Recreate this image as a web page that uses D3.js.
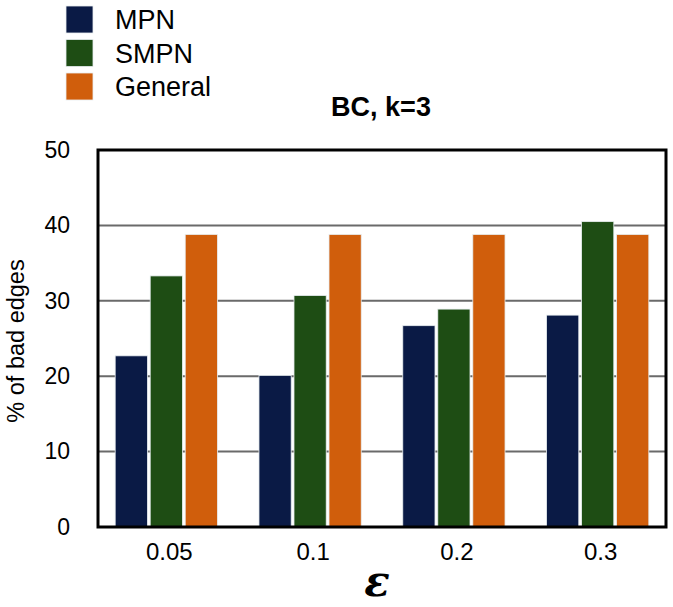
<!DOCTYPE html>
<html>
<head>
<meta charset="utf-8">
<script src="https://cdn.jsdelivr.net/npm/d3@7"></script>
<style>
  body { margin: 0; background: #fff; }
  text { font-family: "Liberation Sans", Arial, sans-serif; fill: #000; }
</style>
</head>
<body>
<script>
// data
var categories = ["0.05", "0.1", "0.2", "0.3"];
var seriesNames = ["MPN", "SMPN", "General"];
var mpn = [22.7, 20.1, 26.7, 28.1];
var smpn = [33.3, 30.7, 28.9, 40.5];
var general = [38.8, 38.8, 38.8, 38.8];
var yTicks = [0, 10, 20, 30, 40, 50];
var colors = ["#0a1a45", "#1e4d14", "#d05e0c"];

var width = 673, height = 607;
var margin = {left: 98, right: 7, top: 150, bottom: 80};

var svg = d3.select("body").append("svg")
    .attr("width", width)
    .attr("height", height);

var x0 = d3.scaleBand()
    .domain(categories)
    .range([margin.left, width - margin.right])
    .paddingInner(0.25)
    .paddingOuter(0.1);

var x1 = d3.scaleBand()
    .domain(seriesNames)
    .range([0, x0.bandwidth()])
    .padding(0.08);

var y = d3.scaleLinear()
    .domain([0, 50])
    .range([527, margin.top]);

// gridlines
svg.append("g")
    .selectAll("line")
    .data(yTicks.filter(function(d) { return d > 0 && d < 50; }))
    .enter()
    .append("line")
    .attr("x1", margin.left)
    .attr("x2", width - margin.right)
    .attr("y1", function(d) { return y(d); })
    .attr("y2", function(d) { return y(d); })
    .style("stroke", "#6a6a6a")
    .style("stroke-width", 2);

var table = categories.map(function(c, i) {
    return {cat: c, values: [mpn[i], smpn[i], general[i]]};
});

var groups = svg.append("g")
    .selectAll("g")
    .data(table)
    .enter()
    .append("g")
    .attr("transform", function(d) { return "translate(" + x0(d.cat) + ",0)"; });

groups.selectAll("rect")
    .data(function(d) {
        return d.values.map(function(v, j) { return {name: seriesNames[j], value: v, idx: j}; });
    })
    .enter()
    .append("rect")
    .attr("x", function(d) { return x1(d.name); })
    .attr("width", x1.bandwidth())
    .attr("y", function(d) { return y(d.value); })
    .attr("height", function(d) { return y(0) - y(d.value); })
    .style("fill", function(d) { return colors[d.idx]; })
    .style("stroke", "#e8eef0")
    .style("stroke-width", 0.8);

// frame
svg.append("rect")
    .attr("x", margin.left)
    .attr("y", y(50))
    .attr("width", width - margin.right - margin.left)
    .attr("height", y(0) - y(50))
    .style("fill", "none")
    .style("stroke", "#000")
    .style("stroke-width", 3);

// y axis
var yAxis = svg.append("g")
    .attr("transform", "translate(" + margin.left + ",0)")
    .call(d3.axisLeft(y).tickValues(yTicks).tickSize(0).tickPadding(28));
yAxis.select(".domain").remove();
yAxis.selectAll("text")
    .style("font-size", "23px")
    .style("font-family", "Liberation Sans, Arial, sans-serif");

// x axis
var xAxis = svg.append("g")
    .attr("transform", "translate(0," + y(0) + ")")
    .call(d3.axisBottom(x0).tickSize(0).tickPadding(16));
xAxis.select(".domain").remove();
xAxis.selectAll("text")
    .attr("dx", 3)
    .style("font-size", "24px")
    .style("font-family", "Liberation Sans, Arial, sans-serif");

// axis titles
svg.append("text")
    .attr("transform", "translate(24," + 341 + ") rotate(-90)")
    .attr("text-anchor", "middle")
    .style("font-size", "23.5px")
    .text("% of bad edges");

svg.append("text")
    .attr("x", 377)
    .attr("y", 596)
    .attr("text-anchor", "middle")
    .style("font-size", "42px")
    .style("font-style", "italic")
    .style("font-weight", "bold")
    .style("font-family", "DejaVu Serif, serif")
    .text("ε");

svg.append("text")
    .attr("x", 381)
    .attr("y", 116)
    .attr("text-anchor", "middle")
    .style("font-size", "27px")
    .style("font-weight", "bold")
    .text("BC, k=3");

// legend
var legend = svg.append("g")
    .selectAll("g")
    .data(seriesNames)
    .enter()
    .append("g")
    .attr("transform", function(d, i) { return "translate(66," + (6 + i * 33.5) + ")"; });

legend.append("rect")
    .attr("width", 27)
    .attr("height", 27)
    .style("fill", function(d, i) { return colors[i]; })
    .style("stroke", "#e8eef0")
    .style("stroke-width", 0.8);

legend.append("text")
    .attr("x", 49)
    .attr("y", 23)
    .style("font-size", "27px")
    .text(function(d) { return d; });
</script>
</body>
</html>
